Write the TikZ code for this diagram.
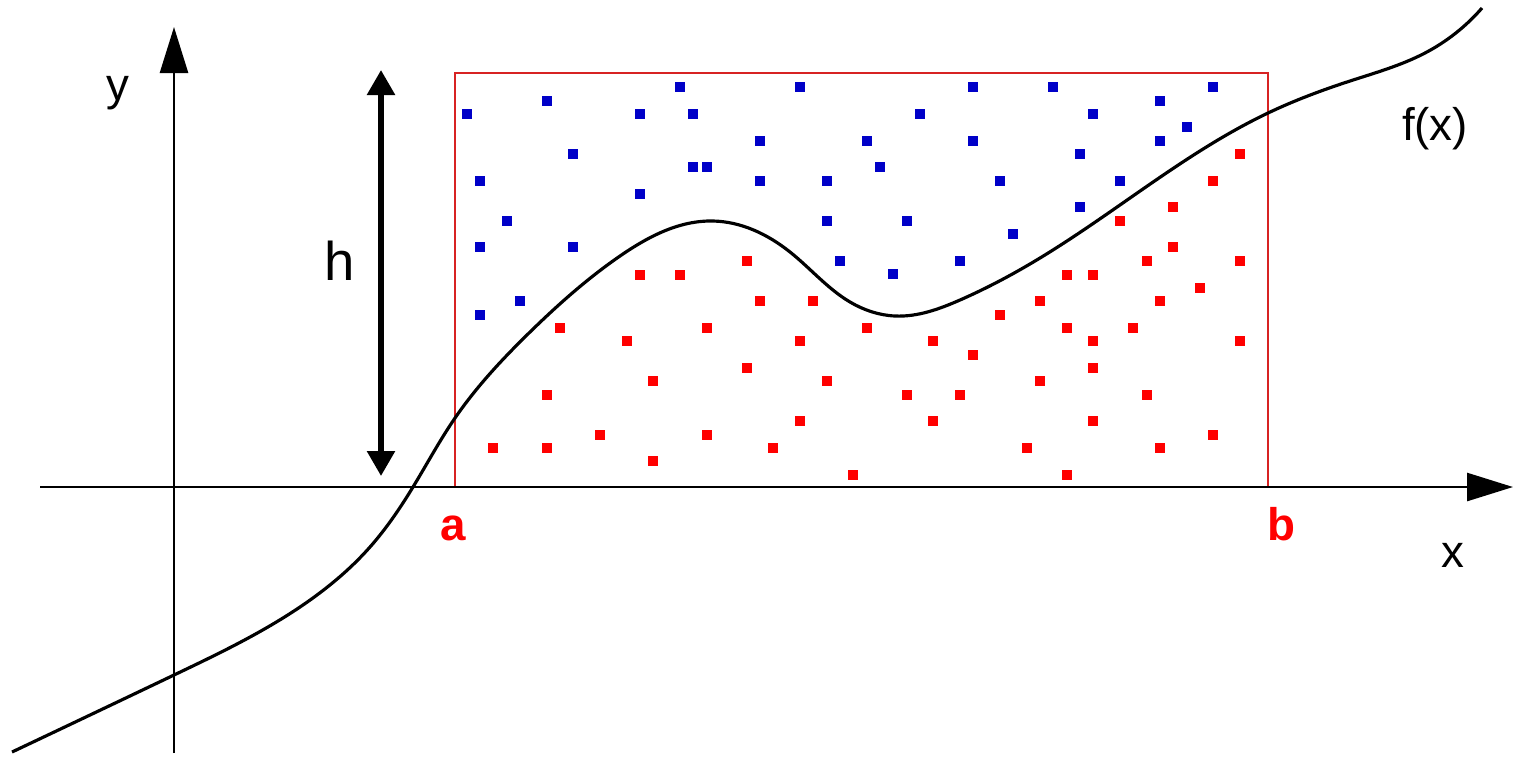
\documentclass[tikz,border=0pt]{standalone}
\usepackage{fontspec}
\setmainfont{Liberation Sans}
\usetikzlibrary{arrows.meta,hobby}
\definecolor{dotblue}{RGB}{0,0,200}
\definecolor{dotred}{RGB}{255,0,0}
\definecolor{rectred}{RGB}{215,35,35}
\tikzset{
  bdot/.style={rectangle,fill=dotblue,inner sep=0pt,minimum size=0.105cm},
  rdot/.style={rectangle,fill=dotred,inner sep=0pt,minimum size=0.105cm},
  axis/.style={line width=0.75pt,-{Triangle[length=4.6mm,width=2.8mm]}},
  harrow/.style={line width=1.6pt,{Triangle[length=2.5mm,width=2.7mm]}-{Triangle[length=2.5mm,width=2.7mm]}},
  lbl/.style={font=\fontsize{13}{15}\selectfont,anchor=base,inner sep=0pt},
  ablbl/.style={font=\fontsize{13}{15}\selectfont\bfseries,text=dotred,anchor=base,inner sep=0pt},
}
\begin{document}
\begin{tikzpicture}[x=0.01cm,y=-0.01cm]
\useasboundingbox (0,0) rectangle (1513,757);
% rectangle
\draw[rectred,line width=0.6pt] (455,487) -- (455,73) -- (1268,73) -- (1268,487);
% dots
\foreach [count=\i] \a/\b in {680/87,800/87,973/87,1053/87,1213/87,547/101,1160/101,467/114,640/114,693/114,920/114,1093/114,1187/127,760/141,867/141,973/141,1160/141,573/154,1080/154,693/167,707/167,880/167,480/181,760/181,827/181,1000/181,1120/181,640/194,1080/207,507/221,827/221,907/221,1013/234,480/247,573/247,840/261,960/261,893/274,520/301,480/315}
  \node[bdot] (b\i) at (\a,\b) {};
\foreach [count=\i] \a/\b in {1240/154,1213/181,1173/207,1120/221,1173/247,747/261,1147/261,1240/261,640/275,680/275,1067/275,1093/275,1200/288,760/301,813/301,1040/301,1160/301,1000/315,560/328,707/328,867/328,1067/328,1133/328,627/341,800/341,933/341,1093/341,1240/341,973/355,747/368,1093/368,653/381,827/381,1040/381,547/395,907/395,960/395,1147/395,800/421,933/421,1093/421,600/435,707/435,1213/435,493/448,547/448,773/448,1027/448,1160/448,653/461,853/475,1067/475}
  \node[rdot] (r\i) at (\a,\b) {};
% axes
\coordinate (xs) at (40,487);
\coordinate (xe) at (1513,487);
\coordinate (ys) at (174,753);
\coordinate (ye) at (174,27);
\draw[axis] (xs) -- (xe);
\draw[axis] (ys) -- (ye);
% h arrow
\coordinate (ht) at (381,70);
\coordinate (hb) at (381,476);
\draw[harrow] (hb) -- (ht);
% curve
\draw[line width=0.9pt,use Hobby shortcut] (12,752) .. (174,675) .. (300,607) .. (370,547) .. (413,487) .. (455,418) .. (530,332) .. (620,256) .. (713,221) .. (790,252) .. (850,302) .. (895,316) .. (960,300) .. (1040,258) .. (1130,198) .. (1268,113) .. (1350,81) .. (1425,53) .. (1482,8);
% labels
\node[lbl] (ylab) at (118,100) {y};
\node[lbl,font=\fontsize{15.5}{18}\selectfont] (hlab) at (340,280) {h};
\node[ablbl] (alab) at (453,540) {a};
\node[ablbl] (blab) at (1281,540) {b};
\node[lbl] (xlab) at (1453,567) {x};
\node[lbl] (flab) at (1435,140) {f(x)};
\end{tikzpicture}
\end{document}
